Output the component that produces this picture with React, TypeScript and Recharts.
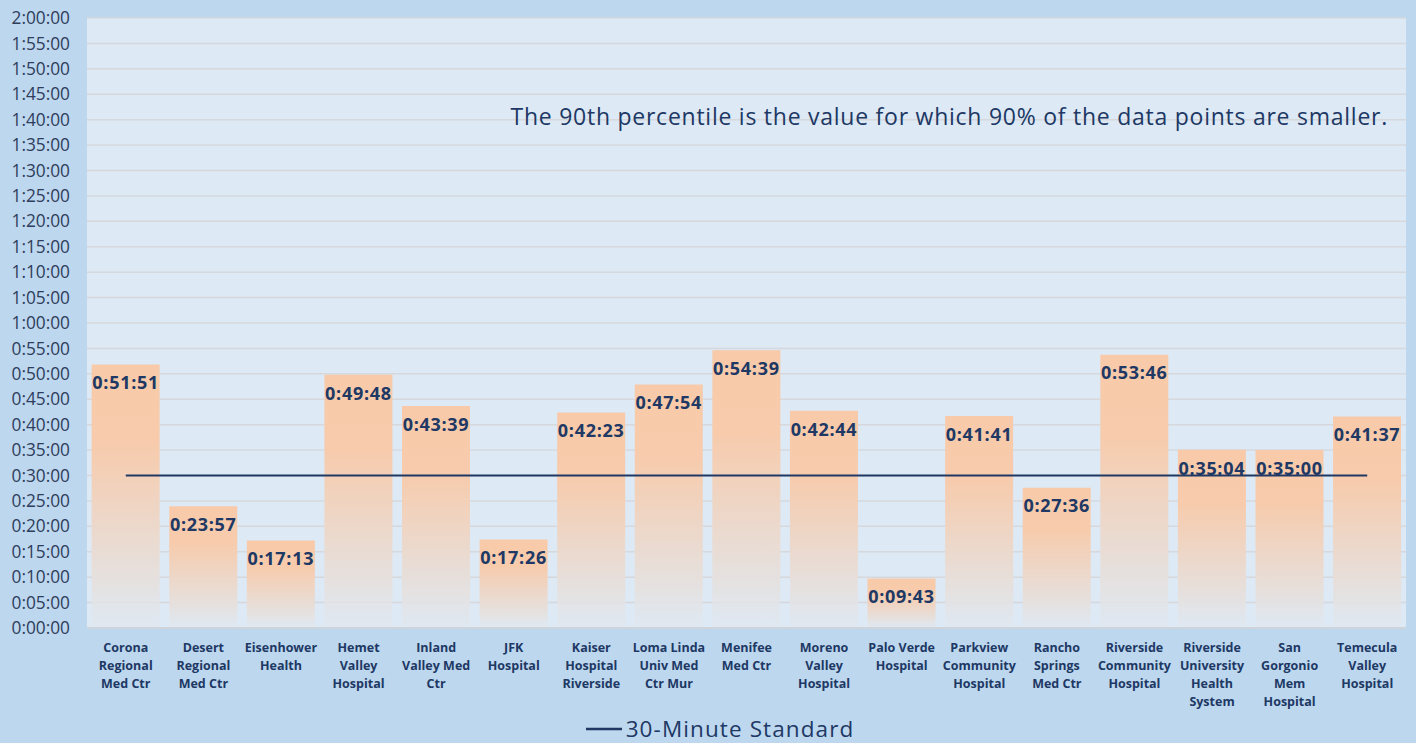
import React from "react";
import {
  ComposedChart,
  Bar,
  Line,
  XAxis,
  YAxis,
  CartesianGrid,
  Legend,
  LabelList,
} from "recharts";

const hospitals = [
  "Corona\nRegional\nMed Ctr",
  "Desert\nRegional\nMed Ctr",
  "Eisenhower\nHealth",
  "Hemet\nValley\nHospital",
  "Inland\nValley Med\nCtr",
  "JFK\nHospital",
  "Kaiser\nHospital\nRiverside",
  "Loma Linda\nUniv Med\nCtr Mur",
  "Menifee\nMed Ctr",
  "Moreno\nValley\nHospital",
  "Palo Verde\nHospital",
  "Parkview\nCommunity\nHospital",
  "Rancho\nSprings\nMed Ctr",
  "Riverside\nCommunity\nHospital",
  "Riverside\nUniversity\nHealth\nSystem",
  "San\nGorgonio\nMem\nHospital",
  "Temecula\nValley\nHospital",
];

// 90th percentile times in seconds
const percentile90 = [
  3111, 1437, 1033, 2988, 2619, 1046, 2543, 2874, 3279, 2564, 583, 2501, 1656,
  3226, 2104, 2100, 2497,
];

const standardSeconds = [
  1800, 1800, 1800, 1800, 1800, 1800, 1800, 1800, 1800, 1800, 1800, 1800, 1800,
  1800, 1800, 1800, 1800,
];

const yTicks = [
  0, 300, 600, 900, 1200, 1500, 1800, 2100, 2400, 2700, 3000, 3300, 3600, 3900,
  4200, 4500, 4800, 5100, 5400, 5700, 6000, 6300, 6600, 6900, 7200,
];

const noteText =
  "The 90th percentile is the value for which 90% of the data points are smaller.";
const legendText = "30-Minute Standard";

const data = hospitals.map((name, i) => ({
  name,
  value: percentile90[i],
  std: standardSeconds[i],
}));

const fmt = (s: number) => {
  const h = Math.floor(s / 3600);
  const m = Math.floor((s % 3600) / 60);
  const sec = Math.round(s % 60);
  return `${h}:${String(m).padStart(2, "0")}:${String(sec).padStart(2, "0")}`;
};

const NAVY = "#203864";
const FONT = "'Open Sans', sans-serif";

const XTick = (props: any) => {
  const { x, y, payload } = props;
  const lines = String(payload.value).split("\n");
  return (
    <text
      x={x}
      y={y}
      textAnchor="middle"
      fill={NAVY}
      fontFamily={FONT}
      fontWeight="bold"
      fontSize={12.5}
    >
      {lines.map((l: string, i: number) => (
        <tspan key={i} x={x} dy={i === 0 ? 16 : 18}>
          {l}
        </tspan>
      ))}
    </text>
  );
};

const LegendContent = () => (
  <div
    style={{
      display: "flex",
      justifyContent: "center",
      alignItems: "center",
      fontFamily: FONT,
      fontSize: 22.5,
      letterSpacing: 1.1,
      color: NAVY,
      lineHeight: "24px",
      height: 24,
      paddingLeft: 34,
      marginTop: -1,
    }}
  >
    <svg width={36} height={24} style={{ marginRight: 4 }}>
      <line x1={0} x2={36} y1={12} y2={12} stroke={NAVY} strokeWidth={2.5} />
    </svg>
    <span>{legendText}</span>
  </div>
);

export default function App() {
  return (
    <div
      style={{
        position: "absolute",
        left: 0,
        top: 0,
        width: 1416,
        height: 743,
        background: "#bdd7ee",
        overflow: "hidden",
      }}
    >
      <ComposedChart
        width={1416}
        height={743}
        data={data}
        margin={{ top: 18, right: 10, left: 0, bottom: 0 }}
        barCategoryGap="6%"
      >
        <defs>
          <linearGradient id="barGrad" x1="0" y1="0" x2="0" y2="1">
            <stop offset="0" stopColor="#f8caa9" />
            <stop offset="0.3" stopColor="#f7cbac" />
            <stop offset="0.85" stopColor="#e4e2e2" />
            <stop offset="1" stopColor="#e2e6ec" stopOpacity={0.4} />
          </linearGradient>
        </defs>
        <CartesianGrid
          vertical={false}
          stroke="#d6d8dc"
          strokeWidth={1.5}
          fill="#dde9f5"
          fillOpacity={1}
        />
        <XAxis
          dataKey="name"
          height={90}
          interval={0}
          tickLine={false}
          axisLine={{ stroke: "#cfd4da", strokeWidth: 2 }}
          tick={<XTick />}
        />
        <YAxis
          width={87}
          domain={[0, 7200]}
          ticks={yTicks}
          interval={0}
          tickFormatter={fmt}
          axisLine={false}
          tickLine={false}
          tickSize={0}
          tickMargin={17}
          tick={{ fill: "#2e3d5c", fontFamily: FONT, fontSize: 17.3 }}
        />
        <Bar
          dataKey="value"
          fill="url(#barGrad)"
          isAnimationActive={false}
          legendType="none"
        >
          <LabelList
            dataKey="value"
            position="insideTop"
            offset={12}
            formatter={(v: any) => fmt(Number(v))}
            fill={NAVY}
            fontFamily={FONT}
            fontWeight="bold"
            fontSize={18}
            letterSpacing={0.7}
          />
        </Bar>
        <Line
          dataKey="std"
          stroke={NAVY}
          strokeWidth={2}
          dot={false}
          activeDot={false}
          isAnimationActive={false}
        />
        <Legend verticalAlign="bottom" height={25} content={<LegendContent />} />
        <text
          x={1388}
          y={125}
          textAnchor="end"
          fill={NAVY}
          fontFamily={FONT}
          fontSize={23}
          letterSpacing={0.75}
        >
          {noteText}
        </text>
      </ComposedChart>
    </div>
  );
}
